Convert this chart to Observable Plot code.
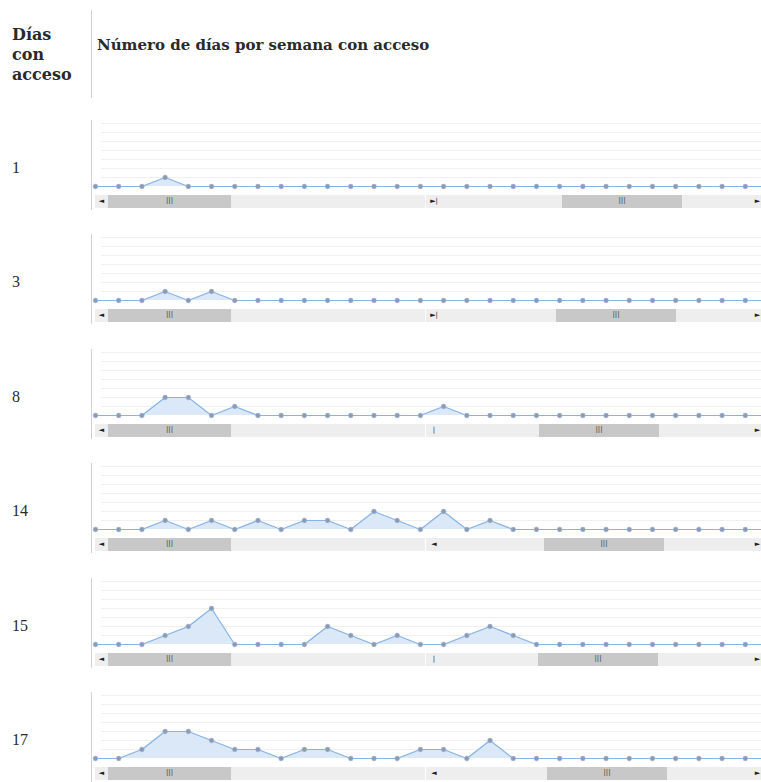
<!DOCTYPE html>
<html>
<head>
<meta charset="utf-8">
<script src="https://cdn.jsdelivr.net/npm/d3@7"></script>
<script src="https://cdn.jsdelivr.net/npm/@observablehq/plot@0.6"></script>
<style>
  html, body { margin: 0; padding: 0; background: #fff; }
  #page { position: relative; width: 761px; height: 782px; overflow: hidden; background: #fff; }
  .abs { position: absolute; }
  .hdr { font-family: "DejaVu Serif", serif; font-weight: bold; color: #2a2a2a; }
  .lbl { font-family: "Liberation Serif", serif; font-size: 16px; color: #2a2a2a; line-height: 18px; }
  .vline { background: #d2d2d2; width: 1px; }
  .track { background: #eeeeee; height: 13px; }
  .thumb { background: #c8c8c8; height: 13px; font: 8px "DejaVu Sans", sans-serif; color: #666; text-align: center; line-height: 13px; }
  .btn { font: 7px "DejaVu Sans", sans-serif; color: #222; line-height: 13px; text-align: center; width: 11px; height: 13px; }
</style>
</head>
<body>
<div id="page"></div>
<script>
// ---- data ----
const diasConAcceso = ["1", "3", "8", "14", "15", "17"];
const serie1  = [0,0,0,1,0,0,0,0,0,0,0,0,0,0,0,0,0,0,0,0,0,0,0,0,0,0,0,0,0,0];
const serie3  = [0,0,0,1,0,1,0,0,0,0,0,0,0,0,0,0,0,0,0,0,0,0,0,0,0,0,0,0,0,0];
const serie8  = [0,0,0,2,2,0,1,0,0,0,0,0,0,0,0,1,0,0,0,0,0,0,0,0,0,0,0,0,0,0];
const serie14 = [0,0,0,1,0,1,0,1,0,1,1,0,2,1,0,2,0,1,0,0,0,0,0,0,0,0,0,0,0,0];
const serie15 = [0,0,0,1,2,4,0,0,0,0,2,1,0,1,0,0,1,2,1,0,0,0,0,0,0,0,0,0,0,0];
const serie17 = [0,0,1,3,3,2,1,1,0,1,1,0,0,0,1,1,0,2,0,0,0,0,0,0,0,0,0,0,0,0];
const series = [serie1, serie3, serie8, serie14, serie15, serie17];
const gridTicks = [1, 2, 3, 4, 5, 6, 7];

// ---- scrollbar decoration (layout only) ----
const rightThumbStart = [562, 556, 539, 544, 538, 547];
const rightFirstGlyph = ["►|", "►|", "|", "◄", "|", "◄"];

const page = document.getElementById("page");
function el(cls, css, text) {
  const d = document.createElement("div");
  d.className = "abs " + cls;
  Object.assign(d.style, css);
  if (text != null) d.textContent = text;
  page.appendChild(d);
  return d;
}

// header
el("hdr", {left: "12px", top: "25px", fontSize: "16px", lineHeight: "20px"}).innerHTML = "Días<br>con<br>acceso";
el("vline", {left: "91px", top: "10px", height: "88px"});
el("hdr", {left: "97px", top: "35px", fontSize: "15px", lineHeight: "20px", whiteSpace: "nowrap"}, "Número de días por semana con acceso");

series.forEach((vals, i) => {
  const B = Math.round(186 + i * 114.4); // baseline y of row
  const data = vals.map((v, k) => ({semana: k, dias: v}));

  el("lbl", {left: "12px", top: (B - 27) + "px"}, diasConAcceso[i]);
  el("vline", {left: "91px", top: (B - 66) + "px", height: "90px"});

  const chart = Plot.plot({
    width: 690,
    height: 70,
    marginLeft: 4,
    marginRight: 13,
    marginTop: 4,
    marginBottom: 3,
    x: {domain: [0, 29], axis: null},
    y: {domain: [0, 7], axis: null},
    marks: [
      Plot.ruleY(gridTicks, {stroke: "#f0f0f0", strokeWidth: 1, insetLeft: 6}),
      Plot.areaY(data, {x: "semana", y: "dias", fill: "#dbe8f7", fillOpacity: 1}),
      Plot.lineY(data, {x: "semana", y: "dias", stroke: "#86b4e6", strokeWidth: 1.2}),
      Plot.dot(data, {x: "semana", y: "dias", r: 2.4, fill: "#8b9bb6", stroke: "#a9bbd6", strokeWidth: 0.6})
    ]
  });
  chart.style.position = "absolute";
  chart.style.left = "91px";
  chart.style.top = (B - 67) + "px";
  chart.style.overflow = "visible";
  page.appendChild(chart);

  // scrollbars
  const sy = (B + 9) + "px";
  el("track", {left: "95px", top: sy, width: "330px"});
  el("btn", {left: "96px", top: sy}, "◄");
  el("thumb", {left: "108px", top: sy, width: "123px"}, "III");
  el("track", {left: "426px", top: sy, width: "340px"});
  el("btn", {left: "427px", top: sy, width: "14px"}, rightFirstGlyph[i]);
  el("thumb", {left: rightThumbStart[i] + "px", top: sy, width: "120px"}, "III");
  el("btn", {left: "752px", top: sy}, "►");
});
</script>
</body>
</html>
